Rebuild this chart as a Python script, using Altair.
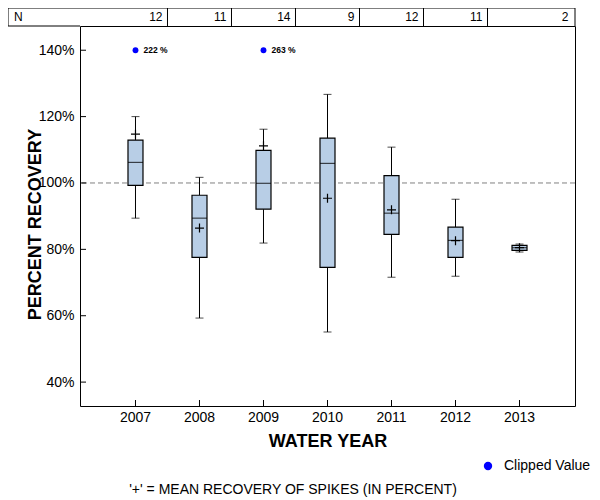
import altair as alt
import pandas as pd

years = ["2007", "2008", "2009", "2010", "2011", "2012", "2013"]
n_counts = [12, 11, 14, 9, 12, 11, 2]
lower = [89.4, 59.3, 81.9, 55.1, 71.6, 71.9, 79.2]
q1 = [99.3, 77.6, 92.1, 74.6, 84.5, 77.6, 79.7]
median = [106.2, 89.4, 99.9, 105.9, 90.9, 82.7, 80.5]
q3 = [112.9, 96.3, 109.8, 113.5, 102.2, 86.7, 81.2]
upper = [120.0, 101.7, 116.2, 126.7, 110.8, 95.1, 81.6]
mean = [114.7, 86.4, 111.2, 95.4, 91.9, 82.6, 80.5]

clip_years = ["2007", "2009"]
clip_values = [222, 263]
clip_at = 140

ref_line = 100

W, H = 495, 380
FONT = "Liberation Sans"

df = pd.DataFrame({"year": years, "n": n_counts, "lower": lower, "q1": q1,
                   "median": median, "q3": q3, "upper": upper, "mean": mean})
clip_df = pd.DataFrame({"year": clip_years, "value": clip_values,
                        "shown": [clip_at] * len(clip_years),
                        "kind": ["Clipped Value"] * len(clip_years)})
clip_df["label"] = clip_df["value"].astype(str) + " %"
one = pd.DataFrame({"a": [0]})

xscale = alt.Scale(type="band", domain=years, paddingInner=0, paddingOuter=0.367)
yscale = alt.Scale(domain=[32.8, 147.3], nice=False, zero=False)

X = alt.X("year:O", scale=xscale,
          axis=alt.Axis(title="WATER YEAR", labelAngle=0, grid=False, domain=False,
                        ticks=False, tickSize=0, labelPadding=4, labelFontSize=14,
                        titleFontSize=18, titleFontWeight="bold", titleY=35,
                        titleBaseline="middle"))
Y = alt.Y("q1:Q", scale=yscale,
          axis=alt.Axis(title="PERCENT RECOVERY", values=[40, 60, 80, 100, 120, 140],
                        labelExpr="datum.value + '%'", grid=False, domain=False,
                        ticks=False, tickSize=0, labelPadding=6, labelFontSize=14,
                        titleFontSize=18, titleFontWeight="bold", titleX=-45, titleY=198,
                        titleBaseline="middle", titleAlign="center"))

base = alt.Chart(df)

refrule = alt.Chart(one).mark_rule(color="#808080", strokeDash=[5, 3], strokeWidth=1).encode(
    y=alt.Y("v:Q", scale=yscale)
).transform_calculate(v=str(ref_line))

whisk_lo = base.mark_rule(color="black", strokeWidth=1).encode(x=X, y=Y, y2="lower:Q")
whisk_hi = base.mark_rule(color="black", strokeWidth=1).encode(
    x=alt.X("year:O", scale=xscale), y=alt.Y("q3:Q", scale=yscale), y2="upper:Q")
cap_lo = base.mark_tick(color="black", size=8, thickness=1).encode(
    x=alt.X("year:O", scale=xscale), y=alt.Y("lower:Q", scale=yscale))
cap_hi = base.mark_tick(color="black", size=8, thickness=1).encode(
    x=alt.X("year:O", scale=xscale), y=alt.Y("upper:Q", scale=yscale))
box = base.mark_bar(size=15, fill="#b8cee6", stroke="black", strokeWidth=1.2).encode(
    x=alt.X("year:O", scale=xscale), y=alt.Y("q1:Q", scale=yscale), y2="q3:Q")
med = base.mark_tick(color="black", size=15, thickness=1.2).encode(
    x=alt.X("year:O", scale=xscale), y=alt.Y("median:Q", scale=yscale))
mean_pt = base.mark_point(shape="M-1,0H1M0,-1V1", filled=False, stroke="black",
                          strokeWidth=1.2, size=81, opacity=1).encode(
    x=alt.X("year:O", scale=xscale), y=alt.Y("mean:Q", scale=yscale))

# inward axis ticks
xticks = base.mark_rule(color="black", strokeWidth=1).encode(
    x=alt.X("year:O", scale=xscale), y=alt.value(H), y2=alt.value(H - 6))
yt_df = pd.DataFrame({"t": [40, 60, 80, 100, 120, 140]})
yticks = alt.Chart(yt_df).mark_rule(color="black", strokeWidth=1).encode(
    y=alt.Y("t:Q", scale=yscale), x=alt.value(0), x2=alt.value(6))

clip_pts = alt.Chart(clip_df).mark_point(filled=True, shape="circle", size=34, opacity=1).encode(
    x=alt.X("year:O", scale=xscale), y=alt.Y("shown:Q", scale=yscale),
    color=alt.Color("kind:N", scale=alt.Scale(domain=["Clipped Value"], range=["#0000ff"]),
                    legend=alt.Legend(title=None, orient="none", legendX=401, legendY=433,
                                      symbolType="circle", symbolSize=70, labelFontSize=14,
                                      labelFont=FONT, symbolStrokeWidth=0, labelOffset=9,
                                      labelColor="black")))
clip_txt = alt.Chart(clip_df).mark_text(align="left", baseline="middle", dx=8, fontSize=8.5,
                                        fontWeight="bold", font=FONT, color="black").encode(
    x=alt.X("year:O", scale=xscale), y=alt.Y("shown:Q", scale=yscale), text="label:N")

# N table above plot
TOP = -18
tbl_top = alt.Chart(one).mark_rule(color="black", strokeWidth=1).encode(
    x=alt.value(-72), x2=alt.value(W), y=alt.value(TOP))
tbl_bot = alt.Chart(one).mark_rule(color="black", strokeWidth=1).encode(
    x=alt.value(-72), x2=alt.value(0), y=alt.value(0))
tbl_left = alt.Chart(one).mark_rule(color="black", strokeWidth=1).encode(
    x=alt.value(-72), y=alt.value(TOP), y2=alt.value(0))
tbl_right = alt.Chart(one).mark_rule(color="black", strokeWidth=1).encode(
    x=alt.value(W), y=alt.value(TOP), y2=alt.value(0))
tbl_div = alt.Chart(df[df["year"] != years[-1]]).mark_rule(color="black", strokeWidth=1).encode(
    x=alt.X("year:O", scale=xscale, bandPosition=1), y=alt.value(TOP), y2=alt.value(0))
n_label = alt.Chart(one).mark_text(align="left", baseline="middle", fontSize=12, font=FONT,
                                   color="black").encode(
    x=alt.value(-66), y=alt.value(TOP / 2), text=alt.value("N"))
n_txt = alt.Chart(df[df["year"] != years[-1]]).mark_text(
    align="right", baseline="middle", fontSize=12, font=FONT, dx=-5, color="black").encode(
    x=alt.X("year:O", scale=xscale, bandPosition=1), y=alt.value(TOP / 2), text="n:Q")
n_last = alt.Chart(df[df["year"] == years[-1]]).mark_text(
    align="right", baseline="middle", fontSize=12, font=FONT, dx=17, color="black").encode(
    x=alt.X("year:O", scale=xscale, bandPosition=1), y=alt.value(TOP / 2), text="n:Q")

footnote = alt.Chart(one).mark_text(align="center", baseline="middle", fontSize=14, font=FONT,
                                    color="black").encode(
    x=alt.value(213), y=alt.value(464),
    text=alt.value("'+' = MEAN RECOVERY OF SPIKES (IN PERCENT)"))

chart = alt.layer(
    refrule, whisk_lo, whisk_hi, cap_lo, cap_hi, box, med, mean_pt, xticks, yticks,
    clip_pts, clip_txt, tbl_top, tbl_bot, tbl_left, tbl_right, tbl_div, n_label, n_txt,
    n_last, footnote
).properties(
    width=W, height=H,
    autosize=alt.AutoSizeParams(type="none"),
    padding={"left": 72, "top": 18, "right": 17, "bottom": 94},
).configure_view(
    stroke="black", strokeWidth=1
).configure_axis(
    labelFont=FONT, titleFont=FONT, labelColor="black", titleColor="black"
).configure_text(font=FONT)

chart.save("out.html", embed_options={"renderer": "svg", "actions": False})
